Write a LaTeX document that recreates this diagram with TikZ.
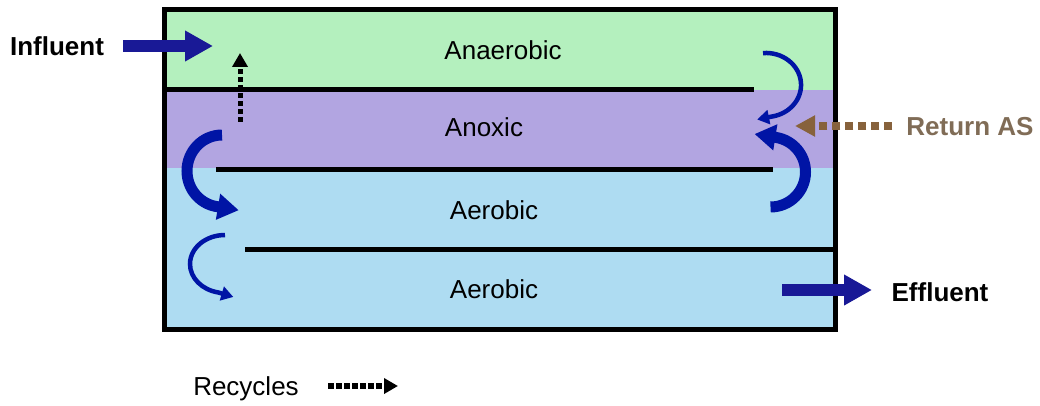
\documentclass[tikz,border=0pt]{standalone}
\usepackage{fontspec}
\setmainfont{Liberation Sans}
\usetikzlibrary{arrows.meta}
\definecolor{anaerobicgreen}{RGB}{180,240,190}
\definecolor{anoxicpurple}{RGB}{178,165,225}
\definecolor{aerobicblue}{RGB}{174,220,242}
\definecolor{feedblue}{RGB}{25,25,150}
\definecolor{mixblue}{RGB}{0,20,165}
\definecolor{sludgebrown}{RGB}{135,98,60}
\definecolor{sludgetext}{RGB}{128,108,86}

\begin{document}
\begin{tikzpicture}[x=1pt,y=1pt,
  zonelabel/.style={font=\fontsize{26}{30}\selectfont, inner sep=0pt},
  sidelabel/.style={font=\fontsize{26}{30}\selectfont\bfseries, inner sep=0pt},
  feed/.style={draw=feedblue, line width=12pt, -{Triangle[length=28pt,width=29pt]}},
  bigmix/.style={draw=mixblue, line width=11pt, -{Triangle[length=21pt,width=25pt]}},
  smallmix/.style={draw=mixblue, line width=4.5pt, -{Triangle[length=12pt,width=14pt]}},
  recycle/.style={draw=black, line width=5pt, dash pattern=on 5pt off 3pt, -{Triangle[length=14pt,width=15pt]}},
  returnas/.style={draw=sludgebrown, line width=8pt, dash pattern=on 8pt off 5pt, -{Triangle[length=20pt,width=20pt]}},
  baffle/.style={line width=5pt}]
\useasboundingbox (0,0) rectangle (1040,405);

\fill[anaerobicgreen] (164.5,395.5) rectangle (835,315);
\fill[anoxicpurple] (164.5,315) rectangle (835,237);
\fill[aerobicblue] (164.5,237) rectangle (835,75.5);

\draw[baffle] (164.5,315.5) -- (754,315.5);
\draw[baffle] (216,235.5) -- (773,235.5);
\draw[baffle] (245,155.5) -- (835,155.5);
\draw[line width=5pt] (164.5,395.5) rectangle (835,75.5);

\node[zonelabel] (anaerobic) at (503,355) {Anaerobic};
\node[zonelabel] (anoxic) at (484,278) {Anoxic};
\node[zonelabel] (aerobic1) at (494,195) {Aerobic};
\node[zonelabel] (aerobic2) at (494,116) {Aerobic};

\node[sidelabel] (influent) at (57,359) {Influent};
\node[sidelabel] (effluent) at (940,113) {Effluent};
\node[sidelabel, text=sludgetext] (ras) at (970,278) {Return AS};
\node[zonelabel] (recycles) at (246,16) {Recycles};

\coordinate (infin) at (213,359);
\coordinate (effout) at (782,115);
\coordinate (effend) at (872,115);
\coordinate (rasin) at (795,279);
\coordinate (recbot) at (240,283);
\coordinate (rectop) at (240,352);
\coordinate (legstart) at (328,19);
\coordinate (legend) at (398,19);

\draw[feed] (influent.east) ++(19,0) -- (infin);
\draw[feed] (effout) -- (effend);
\draw[returnas] (ras.west) ++(-14,1) -- (rasin);
\draw[recycle] (recbot) -- (rectop);
\draw[recycle, line width=6pt, dash pattern=on 6pt off 2pt] (legstart) -- (legend);

\draw[smallmix] (763,351.9) arc[start angle=95, end angle=-80, x radius=35, y radius=32] -- ++(-15,-3);
\draw[bigmix] (770.5,198) arc[start angle=-90, end angle=80, radius=35] -- ++(-22,3.5);
\draw[bigmix] (222,270) arc[start angle=90, end angle=258, x radius=35, y radius=36] -- ++(24,-4);
\draw[smallmix] (225,170) arc[start angle=90, end angle=259, x radius=35, y radius=29] -- ++(15,-4.5);
\end{tikzpicture}
\end{document}
